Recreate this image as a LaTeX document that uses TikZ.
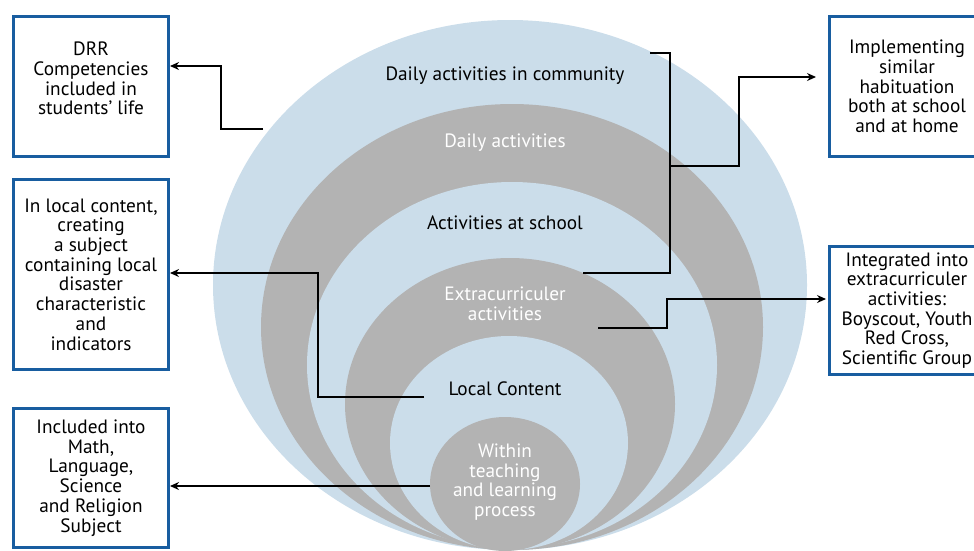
\documentclass[tikz,border=0pt]{standalone}
\usepackage{fontspec}
\setmainfont{PT Sans}
\usetikzlibrary{arrows.meta}
\definecolor{ringblue}{RGB}{203,221,234}
\definecolor{ringgray}{RGB}{179,179,179}
\definecolor{boxblue}{RGB}{24,93,160}
\tikzset{
     infobox/.style={draw=boxblue, line width=3pt, fill=white, align=center,
        inner sep=1pt, minimum width=155pt},
     lbl/.style={align=center, text=#1},
     link/.style={line width=1.4pt},
}
\tikzset{>={Stealth[length=9pt,width=8pt]}}
\def\ux{1pt}

\begin{document}
\begin{tikzpicture}[x=\ux, y=-\ux, font=\fontsize{19.3}{19.7}\selectfont]
  \clip (0,0) rectangle (974,550);

  % nested rings, outer to inner
  \foreach \cx/\cy/\rx/\ry/\col in {510/285/297/265/ringblue,
      512/327/251/223/ringgray, 512/365/205/183/ringblue,
      510/404/165/146/ringgray, 509/443/119/107/ringblue,
      505/484/75/67/ringgray}{
    \fill[fill=\col] (\cx,\cy) ellipse [x radius=\rx, y radius=\ry];
  }

  \node[lbl=black] (tcom) at (505,76) {Daily activities in community};
  \node[lbl=white] (tdaily) at (505,143) {Daily activities};
  \node[lbl=black] (tschool) at (505,223) {Activities at school};
  \node[lbl=white] (textra) at (505,304) {Extracurriculer\\activities};
  \node[lbl=black] (tlocal) at (505,389) {Local Content};
  \node[lbl=white] (tteach) at (505,482) {Within\\teaching\\and learning\\process};

  % boxes
  \node[infobox, minimum height=140pt, text depth=16pt] (dcomp) at (91,86.5)
     {DRR\\Competencies\\included in\\students’ life};
  \node[infobox, minimum height=190pt] (lsubj) at (91,274.5)
     {In local content,\\creating\\a subject\\containing local\\disaster\\characteristic\\and\\indicators};
  \node[infobox, minimum height=139pt] (msubj) at (91,478)
     {Included into\\Math,\\Language,\\Science\\and Religion\\Subject};
  \node[infobox, minimum height=140pt] (habit) at (907,86.5)
     {Implementing\\similar\\habituation\\both at school\\and at home};
  \node[infobox, minimum height=128pt] (integ) at (907,310.5)
     {Integrated into\\extracurriculer\\activities:\\Boyscout, Youth\\Red Cross,\\Scientific Group};

  % connectors
  \coordinate (pcom) at (263,129);
  \coordinate (k1) at (221,66);
  \draw[link,->] (pcom) -| (k1) -- (dcomp.east |- k1);

  \coordinate (pcomr) at (650,53);
  \coordinate (pextra) at (583,273);
  \coordinate (br) at (670,166);
  \draw[link] (pcomr) -| (br) |- (pextra);
  \coordinate (k4) at (739,77);
  \draw[link,->,shorten >=12pt] (br) -| (k4) -- (habit.west |- k4);

  \coordinate (pextrb) at (598,328);
  \coordinate (k5) at (667,299);
  \draw[link,->,shorten >=2pt] (pextrb) -| (k5) -- (integ.west |- k5);

  \coordinate (ploc) at (424,397);
  \coordinate (k2) at (318,273);
  \draw[link,->] (ploc) -| (k2) -- (lsubj.east |- k2);

  \coordinate (pteach) at (430,486);
  \draw[link,->] (pteach) -- (msubj.east |- pteach);
\end{tikzpicture}
\end{document}
